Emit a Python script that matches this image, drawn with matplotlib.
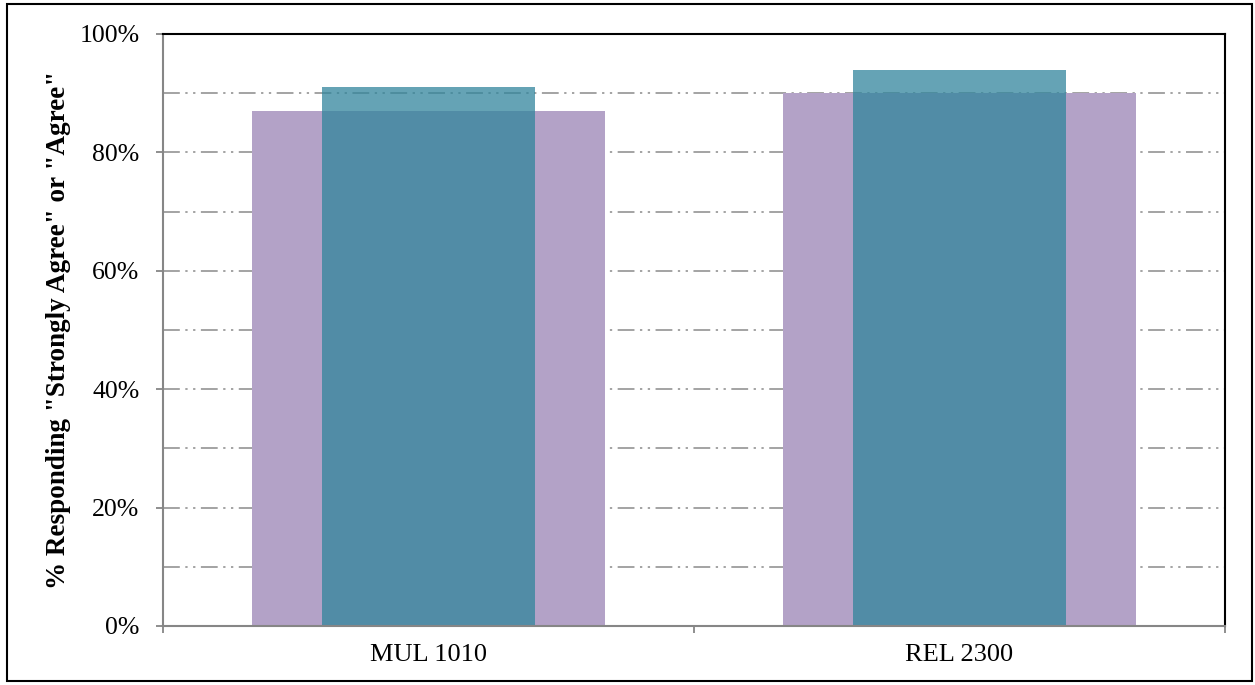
import matplotlib
matplotlib.use("Agg")
import matplotlib.pyplot as plt
from matplotlib.patches import Rectangle
import numpy as np

# Survey results: share responding "Strongly Agree" or "Agree"
courses = ["MUL 1010", "REL 2300"]
series_back = [87, 90]    # wide purple bars
series_front = [91, 94]   # narrow teal bars drawn on top
y_ticks = [0, 20, 40, 60, 80, 100]
y_tick_labels = ["0%", "20%", "40%", "60%", "80%", "100%"]
y_label = '% Responding "Strongly Agree" or "Agree"'

plt.rcParams["font.family"] = ["Liberation Serif", "DejaVu Serif"]

fig = plt.figure(figsize=(12.55, 6.85), dpi=100)
ax = fig.add_axes([163 / 1255, 59 / 685, 1062 / 1255, 592 / 685])

x = np.arange(len(courses))
ax.bar(x, series_back, width=0.665, color="#B3A2C7", zorder=2)
ax.bar(x, series_front, width=0.40, color="#31859C", alpha=0.75, zorder=3)

ax.set_xlim(-0.5, len(courses) - 0.5)
ax.set_ylim(0, 100)

# y axis: labelled ticks every 20%, gridlines every 10%
ax.set_yticks(y_ticks)
ax.set_yticklabels(y_tick_labels, fontsize=18.5)
ax.set_yticks(np.arange(10, 100, 20), minor=True)
ax.tick_params(axis="y", which="major", direction="out", length=5,
               width=1.3, color="#868686", pad=12)
ax.tick_params(axis="y", which="minor", length=0)
grid_style = (0, (11, 3.6, 1.5, 3.6, 1.5, 3.6))
ax.grid(axis="y", which="both", color="#8A8A8A", linewidth=1.1,
        linestyle=grid_style, zorder=1)

# x axis: labels at category centres, tick marks at category boundaries
ax.set_xticks(x)
ax.set_xticklabels(courses, fontsize=19)
ax.tick_params(axis="x", which="major", length=0, pad=13)
ax.set_xticks(np.arange(-0.5, len(courses), 1.0), minor=True)
ax.tick_params(axis="x", which="minor", direction="out", length=5,
               width=1.3, color="#868686")

ax.set_ylabel(y_label, fontsize=19.5, fontweight="bold", labelpad=6)

for side in ("left", "bottom"):
    ax.spines[side].set_color("#868686")
    ax.spines[side].set_linewidth(1.5)
for side in ("top", "right"):
    ax.spines[side].set_color("black")
    ax.spines[side].set_linewidth(1.5)
for sp in ax.spines.values():
    sp.set_zorder(5)

# outer frame around the whole chart area
fig.patches.append(Rectangle((6.5 / 1255, 4 / 685), 1245 / 1255, 677 / 685,
                             transform=fig.transFigure, fill=False,
                             edgecolor="black", linewidth=1.5))

fig.savefig("out.png", dpi=100)
